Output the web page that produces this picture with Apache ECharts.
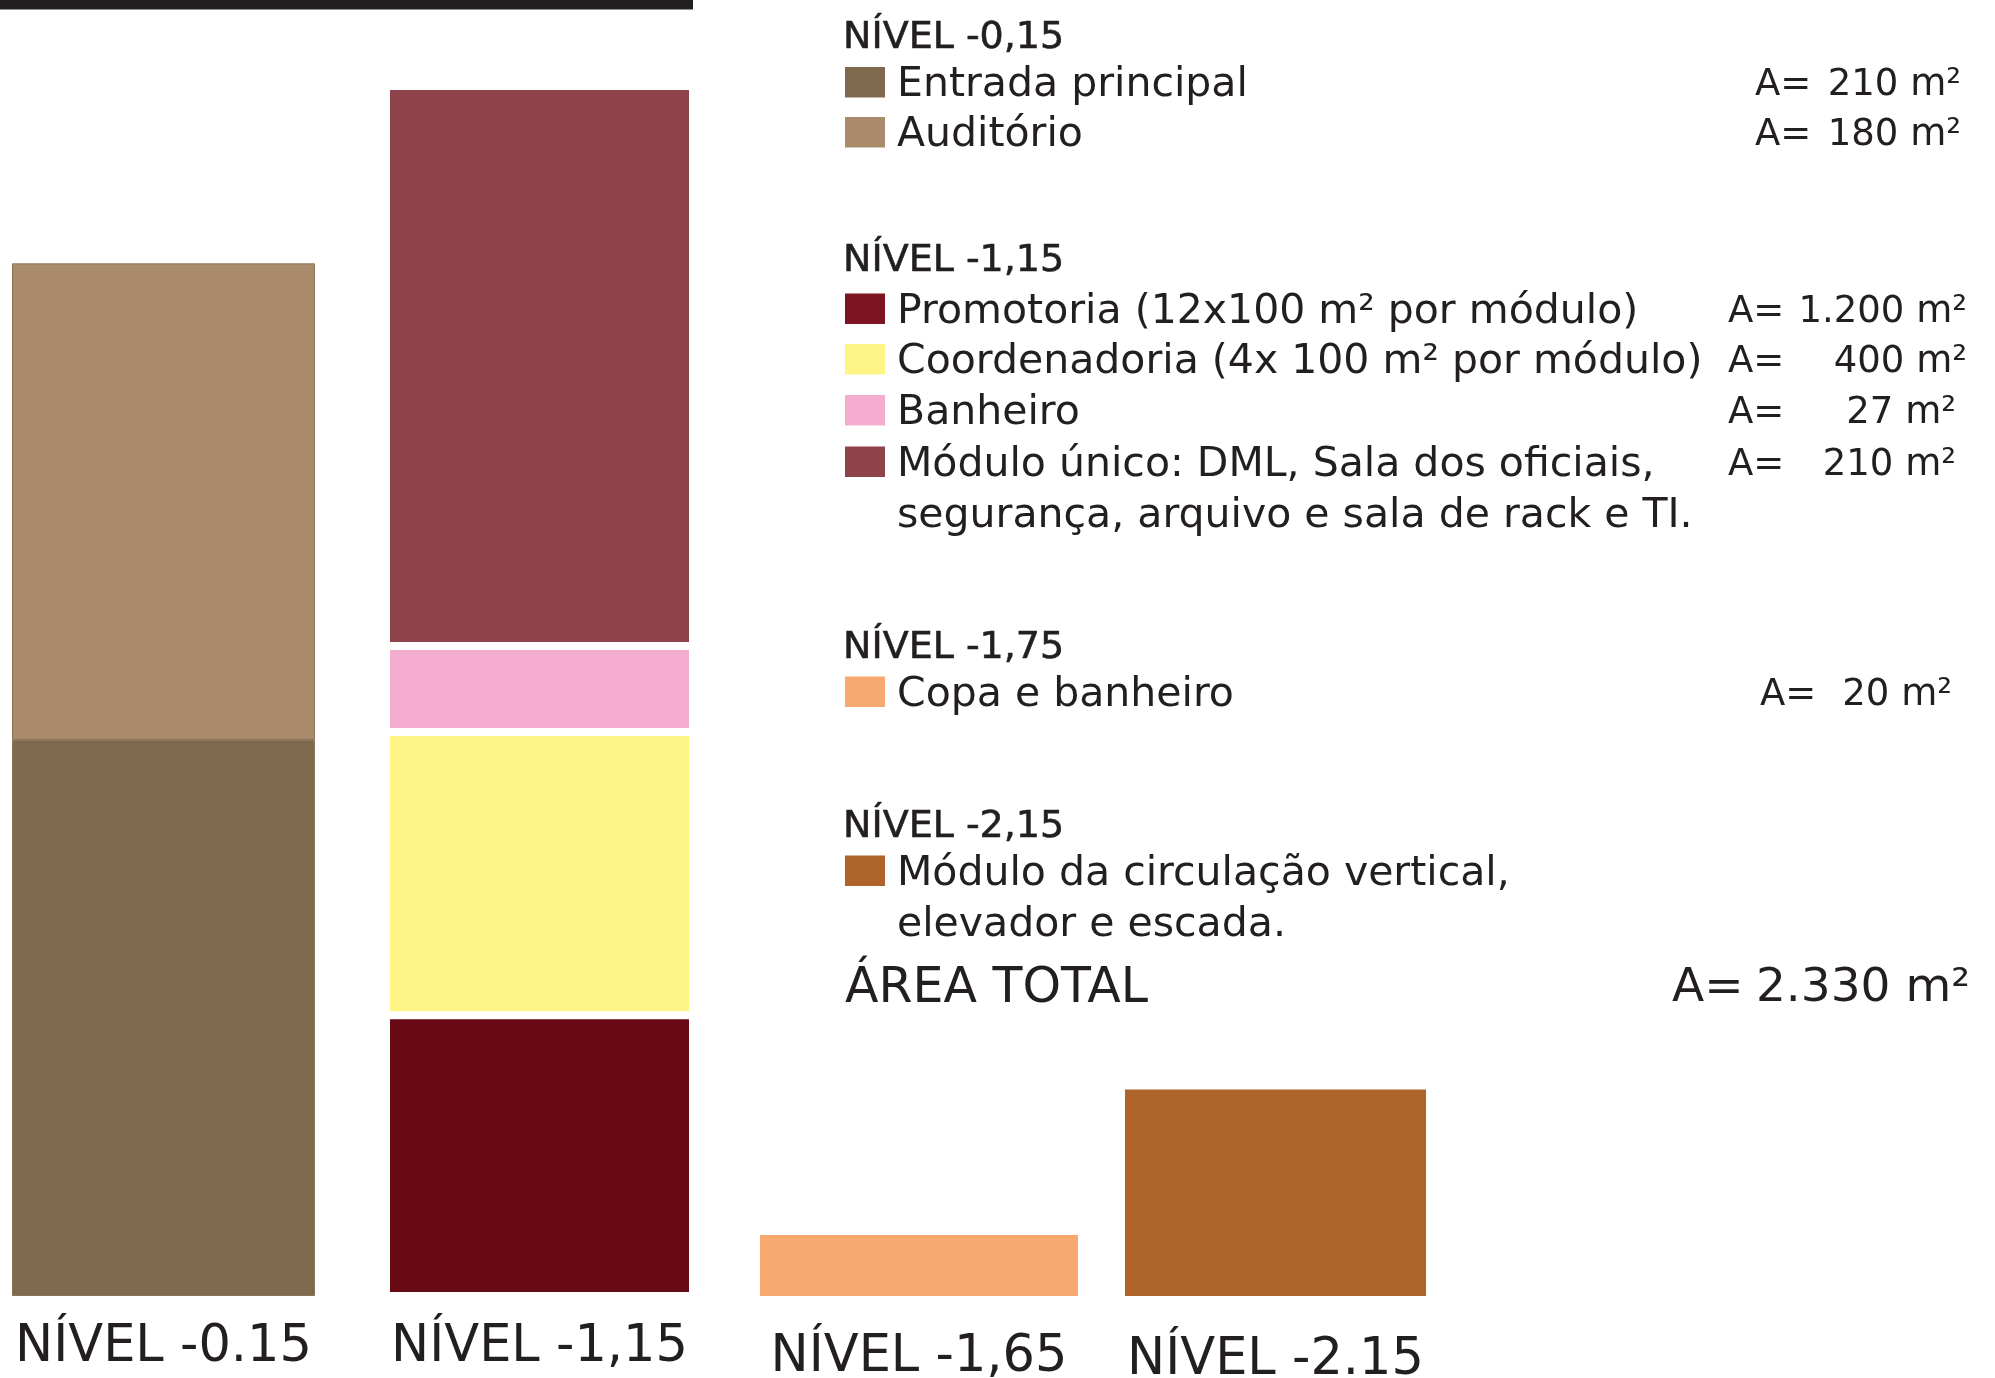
<!DOCTYPE html>
<html>
<head>
<meta charset="utf-8">
<title>Níveis - áreas</title>
<script src="https://cdn.jsdelivr.net/npm/echarts@6/dist/echarts.min.js"></script>
<style>
    html, body { margin: 0; padding: 0; background: #fff; }
    #chart { width: 1995px; height: 1378px; }
</style>
</head>
<body>
<div id="chart"></div>
<script>
// niveis (rotulos embaixo das barras)
var levelLabels = ['NÍVEL -0.15', 'NÍVEL -1,15', 'NÍVEL -1,65', 'NÍVEL -2.15'];

// altura desenhada de cada bloco (escala do nivel -0,15, em m²)
var nivel015Names = ['Entrada principal', 'Auditório'];
var nivel015Values = [210, 180];
var nivel015Colors = ['#806a4f', '#a98b6c'];

var nivel115Names = ['Promotoria', 'Coordenadoria', 'Banheiro', 'Módulo único'];
var nivel115Values = [106, 107, 32.5, 211.5];
var nivel115Colors = ['#670a14', '#fff587', '#f5adcf', '#8e434b'];

var nivel165Values = [23];
var nivel165Colors = ['#f8a970'];
var nivel215Values = [78];
var nivel215Colors = ['#ae632b'];

// legenda
var legendHeadings = ['NÍVEL -0,15', 'NÍVEL -1,15', 'NÍVEL -1,75', 'NÍVEL -2,15'];
var legendNames = [
    'Entrada principal',
    'Auditório',
    'Promotoria (12x100 m² por módulo)',
    'Coordenadoria (4x 100 m² por módulo)',
    'Banheiro',
    'Módulo único: DML, Sala dos oficiais,\nsegurança, arquivo e sala de rack e TI.',
    'Copa e banheiro',
    'Módulo da circulação vertical,\nelevador e escada.'
];
var legendColors = ['#806a4f', '#a98b6c', '#7d1421', '#fff587', '#f5adcf', '#8e434b', '#f8a970', '#ae632b'];
var legendAreas = ['210 m²', '180 m²', '1.200 m²', '400 m²', '27 m²', '210 m²', '20 m²', ''];
var totalLabel = 'ÁREA TOTAL';
var totalArea = '2.330 m²';

var FONT = '"DejaVu Sans", sans-serif';
var INK = '#231f20';
var DY = 3; // correcao do 'middle' do canvas

var chart = echarts.init(document.getElementById('chart'), null, {renderer: 'canvas'});

// posicao de cada barra (px)
var gridBoxes = [
    {left: 12, width: 303},
    {left: 386, width: 307},
    {left: 760, width: 318},
    {left: 1125, width: 301}
];
var labelMargins = [52, 52, 62, 65];

var grids = [], xAxes = [], yAxes = [];
gridBoxes.forEach(function (b, i) {
    grids.push({left: b.left, width: b.width, top: 78, bottom: 82, outerBoundsMode: 'none', containLabel: false});
    xAxes.push({
        type: 'category', gridIndex: i, data: [levelLabels[i]],
        axisLine: {show: false}, axisTick: {show: false}, splitLine: {show: false},
        axisLabel: {
            fontSize: 51, fontFamily: FONT, color: INK,
            margin: labelMargins[i], verticalAlign: 'middle'
        }
    });
    yAxes.push({type: 'value', gridIndex: i, min: 0, max: 460, show: false, splitLine: {show: false}});
});

var series = [];
function addStack(idx, names, values, colors, stack, border) {
    values.forEach(function (v, k) {
        series.push({
            type: 'bar',
            name: names ? names[k] : levelLabels[idx],
            xAxisIndex: idx, yAxisIndex: idx,
            stack: stack,
            barWidth: '100%',
            data: [v],
            itemStyle: {
                color: colors[k],
                borderColor: border ? border.color : null,
                borderWidth: border ? border.width : 0
            },
            silent: true
        });
    });
}
addStack(0, nivel015Names, nivel015Values, nivel015Colors, 'n015', {color: '#8b7357', width: 1});
addStack(1, nivel115Names, nivel115Values, nivel115Colors, 'n115', {color: '#ffffff', width: 4});
addStack(2, null, nivel165Values, nivel165Colors, 'n165');
addStack(3, null, nivel215Values, nivel215Colors, 'n215');

// layout da legenda (px, centro da primeira linha)
var headingY = [35, 258, 645, 824];
var itemY = [82.5, 132.5, 309, 359.5, 410.5, 462, 692, 871];
var areaX = [1755, 1755, 1728, 1728, 1728, 1728, 1760, 0];
var areaRight = [1961, 1961, 1967, 1967, 1956, 1956, 1952, 0];
var LH = 51.5;

var graphic = [];
graphic.push({type: 'rect', shape: {x: 0, y: 0, width: 693, height: 9.5}, style: {fill: INK}});

legendHeadings.forEach(function (h, i) {
    graphic.push({
        type: 'text', x: 843, y: headingY[i] + DY,
        style: {text: h, fontSize: 38, fontFamily: FONT, fill: INK, stroke: INK, lineWidth: 0.6,
            align: 'left', verticalAlign: 'middle'}
    });
});
legendNames.forEach(function (n, i) {
    var lines = n.split('\n').length;
    graphic.push({
        type: 'rect', shape: {x: 845, y: itemY[i] - 15.5, width: 40, height: 30.5},
        style: {fill: legendColors[i]}
    });
    graphic.push({
        type: 'text', x: 897, y: itemY[i] + DY + (lines - 1) * LH / 2,
        style: {text: n, fontSize: 41, fontFamily: FONT, fill: INK, align: 'left',
            verticalAlign: 'middle', lineHeight: LH}
    });
    if (legendAreas[i]) {
        graphic.push({
            type: 'text', x: areaX[i], y: itemY[i] + DY,
            style: {text: 'A=', fontSize: 37, fontFamily: FONT, fill: INK, align: 'left', verticalAlign: 'middle'}
        });
        graphic.push({
            type: 'text', x: areaRight[i], y: itemY[i] + DY,
            style: {text: legendAreas[i], fontSize: 37, fontFamily: FONT, fill: INK, align: 'right', verticalAlign: 'middle'}
        });
    }
});
graphic.push({
    type: 'text', x: 845, y: 986 + DY,
    style: {text: totalLabel, fontSize: 49, fontFamily: FONT, fill: INK, align: 'left', verticalAlign: 'middle'}
});
graphic.push({
    type: 'text', x: 1672, y: 986 + DY,
    style: {text: 'A=', fontSize: 47, fontFamily: FONT, fill: INK, align: 'left', verticalAlign: 'middle'}
});
graphic.push({
    type: 'text', x: 1970, y: 986 + DY,
    style: {text: totalArea, fontSize: 47, fontFamily: FONT, fill: INK, align: 'right', verticalAlign: 'middle'}
});

chart.setOption({
    animation: false,
    backgroundColor: '#ffffff',
    grid: grids,
    xAxis: xAxes,
    yAxis: yAxes,
    series: series,
    graphic: graphic
});
</script>
</body>
</html>
